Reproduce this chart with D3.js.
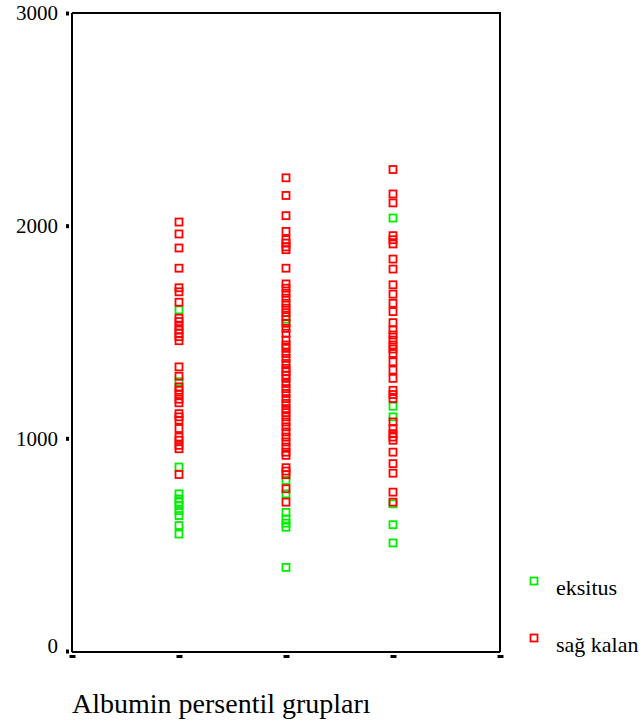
<!DOCTYPE html>
<html>
<head>
<meta charset="utf-8">
<script src="https://cdn.jsdelivr.net/npm/d3@7"></script>
<style>
  body { margin: 0; background: #fff; }
  svg { display: block; font-family: "Liberation Serif", "Times New Roman", serif; }
</style>
</head>
<body>
<div id="chart"></div>
<script>
// Albumin percentile groups (x = 1, 2, 3)
const groups = [1, 2, 3]
const xTicks = [0, 1, 2, 3, 4]
const yTicks = [0, 1000, 2000, 3000]

// eksitus (green), one array per group
const eksitus1 = [1604, 1266, 865, 739, 715, 700, 684, 660, 637, 590, 550]
const eksitus2 = [1560, 802, 739, 652, 621, 601, 582, 393]
const eksitus3 = [2036, 1151, 1101, 692, 594, 508]

// sağ kalan (red), one array per group
const sagKalan1 = [2017, 1961, 1895, 1800, 1708, 1689, 1640, 1565, 1549, 1528, 1509, 1494,
  1478, 1459, 1336, 1292, 1242, 1226, 1206, 1184, 1167, 1116, 1101, 1085, 1046, 1006,
  991, 967, 951, 830]
const sagKalan2 = [2225, 2142, 2047, 1973, 1934, 1918, 1900, 1887, 1800, 1726, 1706, 1682,
  1659, 1635, 1612, 1591, 1572, 1541, 1517, 1494, 1462, 1439, 1423, 1399, 1376, 1352,
  1329, 1313, 1297, 1282, 1258, 1234, 1211, 1187, 1164, 1140, 1121, 1101, 1077, 1054,
  1030, 1006, 983, 959, 935, 920, 862, 846, 829, 763, 700]
const sagKalan3 = [2264, 2149, 2107, 1953, 1934, 1914, 1843, 1796, 1722, 1678, 1635, 1596,
  1544, 1509, 1486, 1462, 1439, 1420, 1399, 1360, 1321, 1282, 1226, 1206, 1187, 1077,
  1046, 1022, 1006, 991, 935, 881, 836, 747, 700]

const series = [
  { name: 'eksitus', color: '#00ee00', values: [eksitus1, eksitus2, eksitus3] },
  { name: 'sağ kalan', color: '#ff0000', values: [sagKalan1, sagKalan2, sagKalan3] }
]

const width = 643
const height = 725
const plot = { left: 72, right: 500, top: 13, bottom: 651 }

const svg = d3.select('#chart').append('svg')
  .attr('width', width)
  .attr('height', height)

const x = d3.scaleLinear().domain([0, 4]).range([plot.left, plot.right])
const y = d3.scaleLinear().domain([0, 3000]).range([plot.bottom, plot.top])

// Frame (top and right)
svg.append('path')
  .attr('d', `M${plot.left},${plot.top}H${plot.right}V${plot.bottom + 1}`)
  .attr('fill', 'none')
  .attr('stroke', '#000')
  .attr('stroke-width', 2)

// Y axis
const yAxis = svg.append('g')
  .attr('transform', `translate(${plot.left},0)`)
  .call(d3.axisLeft(y).tickValues(yTicks).tickSize(6).tickPadding(8).tickFormat(d3.format('d')))
yAxis.select('.domain').attr('stroke-width', 2).attr('d', `M0,${plot.top}V${plot.bottom + 1}`)
yAxis.selectAll('.tick line')
  .attr('x1', -3).attr('x2', -6)
  .attr('stroke-width', 4)
yAxis.selectAll('.tick text')
  .attr('font-family', '"Liberation Serif", serif')
  .attr('font-size', 21)
  .attr('fill', '#000')
yAxis.selectAll('.tick').filter(d => d === 0).select('text').attr('dy', '0.05em')

// X axis
const xAxis = svg.append('g')
  .attr('transform', `translate(0,${plot.bottom + 1})`)
  .call(d3.axisBottom(x).tickValues(xTicks).tickSize(6).tickFormat(''))
xAxis.select('.domain').attr('stroke-width', 2).attr('d', `M${plot.left},0H${plot.right}`)
xAxis.selectAll('.tick line')
  .attr('y1', 3).attr('y2', 6)
  .attr('stroke-width', 6)

// Points (green first, red on top)
const size = 7
series.forEach(s => {
  const pts = groups.flatMap((g, i) => s.values[i].map(v => ({ g, v })))
  svg.append('g').selectAll('rect')
    .data(pts)
    .enter()
    .append('rect')
    .attr('x', d => x(d.g) - size / 2)
    .attr('y', d => y(d.v) - size / 2)
    .attr('width', size)
    .attr('height', size)
    .attr('fill', 'none')
    .attr('stroke', s.color)
    .attr('stroke-width', 1.8)
})

// Legend
const legend = svg.append('g')
series.forEach((s, i) => {
  const ly = 581 + i * 57
  legend.append('rect')
    .attr('x', 530.5)
    .attr('y', ly - 3.5)
    .attr('width', size)
    .attr('height', size)
    .attr('fill', 'none')
    .attr('stroke', s.color)
    .attr('stroke-width', 1.8)
  legend.append('text')
    .attr('x', 556)
    .attr('y', ly + 14)
    .attr('font-size', 22)
    .attr('fill', '#000')
    .text(s.name)
})

// X axis title
svg.append('text')
  .attr('x', 72)
  .attr('y', 713)
  .attr('font-size', 28)
  .attr('fill', '#000')
  .text('Albumin persentil grupları')
</script>
</body>
</html>
